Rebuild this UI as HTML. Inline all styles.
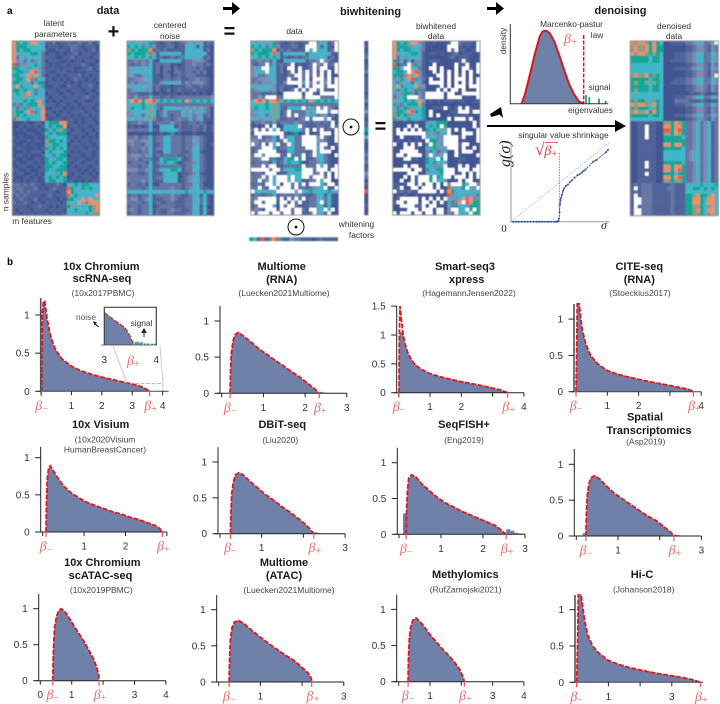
<!DOCTYPE html>
<html><head><meta charset="utf-8"><title>Biwhitening and denoising figure</title>
<style>
html,body{margin:0;padding:0;background:#fff}
svg{display:block;font-family:"Liberation Sans",sans-serif}
.h{font-weight:bold;font-size:11px;fill:#1a1a1a;text-anchor:middle}
.s{font-size:8.4px;fill:#333;text-anchor:middle}
.c{font-size:8.5px;fill:#444;text-anchor:middle}
.m{font-family:"Liberation Serif",serif;font-style:italic}
</style></head><body>
<svg id="fig" width="720" height="704" viewBox="0 0 720 704" xmlns="http://www.w3.org/2000/svg">
<defs><filter id="soft" x="-2%" y="-2%" width="104%" height="104%"><feGaussianBlur stdDeviation="0.4"/></filter></defs>
<text x="7" y="14" font-size="10" font-weight="bold">a</text>
<text x="7" y="265" font-size="10" font-weight="bold">b</text>
<text class="h" x="108" y="14">data</text>
<text class="h" x="370.5" y="15">biwhitening</text>
<text class="h" x="620.5" y="14">denoising</text>
<text class="s" x="54" y="26">latent</text>
<text class="s" x="55.5" y="37">parameters</text>
<text class="s" x="170" y="28">centered</text>
<text class="s" x="170" y="39">noise</text>
<text class="s" x="294.5" y="34">data</text>
<text class="s" x="436" y="29">biwhitened</text>
<text class="s" x="436" y="39">data</text>
<text class="s" x="674" y="29">denoised</text>
<text class="s" x="674" y="39">data</text>
<text class="s" transform="translate(8.5,192) rotate(-90)">n samples</text>
<text class="s" x="32" y="224">m features</text>
<text class="s" x="356.5" y="227">whitening</text>
<text class="s" x="361.5" y="238">factors</text>

<text x="113.5" y="38" font-size="20" font-weight="bold" text-anchor="middle" fill="#111">+</text>
<text x="229.5" y="38" font-size="20" font-weight="bold" text-anchor="middle" fill="#111">=</text>
<text x="380.5" y="133" font-size="20" font-weight="bold" text-anchor="middle" fill="#111">=</text>

<polygon points="223,7 232,7 232,2 240,8.5 232,15 232,10 223,10" fill="#000"/>
<polygon points="487,7 496,7 496,2 504,8.5 496,15 496,10 487,10" fill="#000"/>
<polygon points="490,114 501,107 503,118 499.5,114.5 491.5,117" fill="#000"/>
<polygon points="487,125 615,125 615,120 626,126 615,132 615,127 487,127" fill="#000"/>

<g><circle cx="351" cy="127" r="8" fill="none" stroke="#111"/><circle cx="351" cy="127" r="1.4" fill="#111"/></g>
<g><circle cx="296" cy="227" r="8" fill="none" stroke="#111"/><circle cx="296" cy="227" r="1.4" fill="#111"/></g>

<g id="heatmaps" filter="url(#soft)"></g>
<g id="mp">
<text class="s" x="571.5" y="27">Marcenko-pastur</text>
<text class="s" x="597" y="38">law</text>
<text class="s" transform="translate(506,41) rotate(-90)">density</text>
<text class="s" x="599.5" y="90">signal</text>
<text class="s" x="590.5" y="113">eigenvalues</text>
<text class="m" x="564" y="43" font-size="14" fill="#f26a6a">β<tspan font-size="11" dy="2" font-style="normal">+</tspan></text>
</g>
<g id="sh">
<text class="s" x="563.5" y="138">singular value shrinkage</text>
<text class="m" transform="translate(510,167) rotate(-90)" font-size="16" fill="#222">g(σ)</text>
<text class="m" x="535" y="155" font-size="14" fill="#e8353a"><tspan font-style="normal" font-size="17">√</tspan>β<tspan font-size="10" dy="2" font-style="normal">+</tspan></text>
<line x1="545" y1="142.5" x2="558" y2="142.5" stroke="#e8353a" stroke-width=".8"/>
<text x="504" y="232" font-size="11" font-family="Liberation Serif" text-anchor="middle" fill="#222">0</text>
<text class="m" x="604" y="229" font-size="12" text-anchor="middle" fill="#222">σ</text>
</g>

<text class="h" x="101.3" y="270">10x Chromium</text>
<text class="h" x="102" y="282">scRNA-seq</text>
<text class="c" x="103" y="296">(10x2017PBMC)</text>
<text class="h" x="281.7" y="270">Multiome</text>
<text class="h" x="281.7" y="283">(RNA)</text>
<text class="c" x="284" y="296">(Luecken2021Multiome)</text>
<text class="h" x="465" y="270">Smart-seq3</text>
<text class="h" x="466.7" y="283">xpress</text>
<text class="c" x="469" y="296">(HagemannJensen2022)</text>
<text class="h" x="639.3" y="270">CITE-seq</text>
<text class="h" x="639.3" y="283">(RNA)</text>
<text class="c" x="640" y="296">(Stoeckius2017)</text>
<text class="h" x="100.7" y="428">10x Visium</text>
<text class="c" x="105" y="442.5">(10x2020Visium</text>
<text class="c" x="105" y="452.5">HumanBreastCancer)</text>
<text class="h" x="282.3" y="428">DBiT-seq</text>
<text class="c" x="280.3" y="443">(Liu2020)</text>
<text class="h" x="464" y="428">SeqFISH+</text>
<text class="c" x="464" y="443">(Eng2019)</text>
<text class="h" x="645" y="420.5">Spatial</text>
<text class="h" x="649" y="434">Transcriptomics</text>
<text class="c" x="645.7" y="444.5">(Asp2019)</text>
<text class="h" x="102.3" y="566">10x Chromium</text>
<text class="h" x="100.5" y="579">scATAC-seq</text>
<text class="c" x="101.3" y="593">(10x2019PBMC)</text>
<text class="h" x="284" y="566">Multiome</text>
<text class="h" x="284" y="579">(ATAC)</text>
<text class="c" x="289" y="593">(Luecken2021Multiome)</text>
<text class="h" x="465.3" y="578">Methylomics</text>
<text class="c" x="465.7" y="592.5">(RufZamojski2021)</text>
<text class="h" x="642" y="578">Hi-C</text>
<text class="c" x="643.7" y="592.5">(Johanson2018)</text>

<g id="panels"></g>
<g id="inset">
<line x1="113" y1="346" x2="127" y2="383" stroke="#ccc"/>
<line x1="160" y1="346" x2="163" y2="383" stroke="#ccc"/>
<path d="M135 383.5H163V391" fill="none" stroke="#bbb" stroke-dasharray="4 1.5"/>
</g>
<g>
<text x="86" y="320" font-size="8.4" text-anchor="middle" fill="#555">noise</text>
<line x1="99" y1="327" x2="94" y2="323" stroke="#222" stroke-width="1"/>
<polygon points="93,321 97,322.5 94.5,325.5" fill="#222"/>
<text x="104.3" y="363" font-size="10" text-anchor="middle" fill="#333">3</text>
<text x="156.3" y="363" font-size="10" text-anchor="middle" fill="#333">4</text>
<text class="m" x="127" y="365" font-size="14" fill="#f26a6a">β<tspan font-size="10" dy="2" font-style="normal">+</tspan></text>
</g>
<script>
// ---------- heatmap values (colour level per cell) ----------
const levelColors=['#3f5491','#4f639a','#6575a4','#7c8ab3','#57a8c8','#3fb6c9','#19a596','#8d9d80','#ef8e6b','#ea5a3b'];
const latentMatrix=[
"865658854112011211211201","866654554011101122101110","865665554100111021110120","845556652011010112011101",
"825355542111001120111011","834252352011100101101110","923355652101011011121001","665534532011101110011201",
"566448952100111010101110","664585852011010111201011","566589654110101012110101","665452562011110101011110",
"586455856001100211011210","665654644111011011101101","565785254011101101110110","455754454101110111012101",
"545656584010101110110011","632566684111011011011110","424635458001110101101101","566589658110101011110110",
"765654558011011101011011","675565548101110110101101",
"000100110566688110101110","001010101564668011011011","010100010646576101101101","000011001565666011110110",
"101000100654555110101010","010010110766565101011011","100101000756655011101101","011000101646565110110110",
"000101110564456101011101","011010001546566011101101","100100110645665110110011","010011010656556101101110",
"001100101665566010111011","110010011654666111010101","011001010554468101101010","100110101564656011011101",
"010101100566456110101011",
"221212110111210556566555","122111201012111964465655","212121111111011864455554","121211110120111956545458",
"112111201111010665585855","211210110111101545859888","111101121101011674555678","101110111011110556555678","110111011101011544546577"];
const noiseMatrix=[
"545545621012101235354121","656524631112201154515110","765666812121111155454120","656665951545454154545410",
"556565651211212645454120","223232410545454122333210","212232512122010122322120","344445512022021122212100",
"345454512021022122121200","342234511022012122211100","223345411122122112232210","232333511345454132333210",
"545454312111011122112110","234443412012012111211100","222111200101010101010101","224222522122122222222223",
"589868895656565685656565","555565752222222222222222","465565752155554353535320","345545751252222535354320",
"335424751242122535234120","553444731122123224234110","122322412222322112212100","010101500545502111221201",
"222222511555552111211201","000000100101601000100000","223122512255222122332100","332233512255222122432100",
"232213411254222122352101","122232512255222122452100","122122511155222112451000","233323412122221122452100",
"223122611566665112452100","122221512465560122352100","222122511222222122452100","333223512555665122452100",
"122112411145540112351000","222222512245550123452100","222232411155450123452100","122121500222222122452000",
"222212522222322123452110","555454555555455565555645","122122512222322112451510","233123511122321122452510",
"222212512112211122452510","122122501222211122451500","232122512112322112451510","122122512112211122451500"];
const denoisedMatrix=[
"878876865001111223552253","787786866000000112332132","787786866000000112332132","878876765000111223552253",
"666665665000111223552253","666665665001111223552253","555555555000000112332132","555555555000111123442143",
"555555555000000112332132","787786765000000112332132","666665665000111223552253","676675765001111223552253",
"666665665000000112332132","676665665000000112332132","555555555000000011121011","555555555000111223552253",
"676675765000222211121011","878875865000111223552253","676665765000000112332132","787786865000000112332132",
"666665665000111223552253","555555555000000112332132",
"001111100776876223523512","001121100886886223523512","001121100996896223523512","001121100776876223523512",
"001111100666665223523512","001111100666666223523512","001111100886886223523512","001111100666665223523512",
"001111100555555234523512","001111100555555234523512","001111100555555234523512","001111100666665223523512",
"001111100886886223523512","001111100886896223523512","001111100666566223523512","001111100886896223523512",
"001111100776776223523512",
"121222111112111445565556","101222111122111556656465","121222111112111555555555","101222111112111667866785",
"100222111112111668865885","100222111112111668865885","101222111112111667765785","100222111112111667865885","100222111112111667765785"];
const zeroMask=[
"................##.....#","...............###.....#","...............#.#.....#","........................",
"........................","...................#....","....#......#.....#..#..#","...##.....##.#...#.##..#",
"....#......#.#.#.#.#.#.#","............##.#.#.#.#..","..........#..#.#.###.#.#","..........####.#.#.#.#.#",
".............#.#.###.###","............#.#.##.#...#",".........#####.##..#####","....###..#####.####....#",
"........................","........................","..............#...#.#...","..........#.......###.##",
"..........#.#...........","...............#.###.#..","......................#.","....#.#......#........#.",
".#.#.#.#.......#.#.#...#",".########......#...###.#","..#.....#.....####.#...#",".........#....####.....#",
"#..#.#.#..#...####.##...","...###.........###.#..#.","..#####..........#.###..",".##.####..#...#..#.....#",
"...##.......#.#.........","........................","...#.##.......#...#.#..#","#####.##......###.###.##",
"....###.......###..#.#.#","...#.#.###.#..##.###.#.#","..#..#.###.#......#.##..","....##.#.##.#.#.###..##.",
"..#..##.###.#.......#..#","#......#####.#..........","........................","..#####.#.#.#.#.........",
".##.###.##.#.#.....#...","..####..#.##............","....###.###.##..##..#.#.","#.###.##.##.##...#...#.."];
const denoisedHoles=[[0,23],[9,23],[23,4],[24,4],[25,4],[26,4],[33,4],[34,4],[36,4],[40,1],[42,1],[43,1],[43,2],[44,1],[44,2],[45,1],[46,1],[46,2],[47,1],[47,2]];
const sampleFactors="010120012011110120131011605100121201320109000100";
const featureFactors="651912896115221110121111";
const dimLevels=[0,0,1,2,2,3,4,6,6,9];

const NS='http://www.w3.org/2000/svg';
function mk(tag,attrs,parent){const e=document.createElementNS(NS,tag);for(const k in attrs)e.setAttribute(k,attrs[k]);parent.appendChild(e);return e;}

function drawMatrix(name,x,y,w,h,valueAt){
  const g=mk('g',{},document.getElementById('heatmaps'));
  
  
  const cw=w/24,ch=h/48;
  for(let r=0;r<48;r++)for(let c=0;c<24;c++){
    const v=valueAt(r,c);
    const cell=mk('rect',{x:x+c*cw,y:y+r*ch,width:cw+.25,height:ch+.25,fill:v<0?'#fff':levelColors[v]},g);
    
    
  }
  const b=mk('rect',{x:x,y:y,width:w,height:h,fill:'none',stroke:'#8b8b8b','stroke-width':1},g);
  
  
}
const lvl=(m,r,c)=>parseInt((m[r]||'')[c]||'0',10);
const masked=(r,c)=>((zeroMask[r]||'')[c]==='#');
drawMatrix('latent-parameters-heatmap',12.3,41,87.2,174.5,(r,c)=>lvl(latentMatrix,r,c));
drawMatrix('centered-noise-heatmap',127,41,87,174.5,(r,c)=>lvl(noiseMatrix,r,c));
drawMatrix('data-heatmap',250.7,41,87.6,174,(r,c)=>masked(r,c)?-1:lvl(noiseMatrix,r,c));
drawMatrix('biwhitened-heatmap',392.7,41,87.3,174,(r,c)=>{
  if(masked(r,c))return -1;
  const l=lvl(latentMatrix,r,c);
  return lvl(noiseMatrix,r,c)<=2?dimLevels[l]:l;
});
drawMatrix('denoised-heatmap',630.3,41,88,174.7,(r,c)=>denoisedHoles.some(p=>p[0]===r&&p[1]===c)?-1:lvl(denoisedMatrix,r,c));
// whitening factor strips
(function(){
  const root=document.getElementById('heatmaps');
  const gv=mk('g',{},root);
  
  
  for(let i=0;i<48;i++){
    const r=mk('rect',{x:364.3,y:41+i*174/48,width:4,height:174/48+.25,fill:levelColors[+sampleFactors[i]]},gv);
    
    
  }
  const gh=mk('g',{},root);
  
  
  for(let i=0;i<24;i++){
    const r=mk('rect',{x:249.3+i*88.4/24,y:237.3,width:88.4/24+.25,height:3.8,fill:levelColors[+featureFactors[i]]},gh);
    
    
  }
})();

// ---------- Marcenko-Pastur sketch ----------
const mpX=[1.15,1.5,2,2.5,3,3.3,3.65,4,4.5,5,5.5,6,6.5,7,7.5];
const mpY=[0,.13,.4,.68,.92,.99,1,.97,.85,.66,.46,.27,.13,.03,0];
const signalX=[7.72,8.06,9.05,9.73];
const signalY=[.12,.09,.07,.04];
(function(){
  const g=document.getElementById('mp');
  const sx=v=>510.3+v*9.8, sy=v=>103.7-v*73;
  const pts=mpX.map((v,i)=>sx(v)+','+sy(mpY[i])).join(' ');
  const a=mk('polygon',{points:pts,fill:'#7081a9'},g);
  
  
  const l=mk('polyline',{points:pts,fill:'none',stroke:'#d81820','stroke-width':2,'stroke-linejoin':'round'},g);
  
  
  signalX.forEach((v,i)=>{
    const b=mk('rect',{x:sx(v)-.8,y:sy(signalY[i]),width:1.7,height:signalY[i]*73,fill:'#1f8f98'},g);
    
    
  });
  const d=mk('line',{x1:583.7,y1:35,x2:583.7,y2:103,stroke:'#d81820','stroke-width':1.4,'stroke-dasharray':'4 1.5'},g);
  
  
  const ax=mk('path',{d:'M510.3 24V103.7H608.3',fill:'none',stroke:'#333','stroke-width':1},g);
  
  
})();

// ---------- singular value shrinkage ----------
const shrinkX=[.02,.05,.08,.11,.14,.17,.2,.23,.26,.29,.32,.35,.38,.41,.44,.46,.47,.48,.49,.495,.5,.505,.51,.52,.53,.54,.56,.58,.6,.62,.65,.68,.7,.72,.74,.76,.84,.87,.97,.99];
const shrinkY=[0,0,0,0,0,0,0,0,0,0,0,0,0,0,0,0,0,.01,.04,.12,.22,.27,.3,.34,.39,.42,.45,.47,.5,.52,.56,.59,.6,.62,.64,.66,.76,.78,.88,.91];
(function(){
  const g=document.getElementById('sh');
  const sx=v=>511+v*98, sy=v=>221.7-v*79;
  const ax=mk('path',{d:'M511 141.7V221.7M510 221.7H609.3',fill:'none',stroke:'#999','stroke-width':1},g);
  
  
  const id=mk('line',{x1:sx(0),y1:sy(0),x2:sx(1),y2:sy(1),stroke:'#7f9fce','stroke-width':.8,'stroke-dasharray':'1 1.4'},g);
  
  
  const th=mk('line',{x1:559.3,y1:153,x2:559.3,y2:221.7,stroke:'#e8353a','stroke-width':.8,'stroke-dasharray':'1.5 1.2'},g);
  
  
  const ln=mk('polyline',{points:shrinkX.map((v,i)=>sx(v)+','+sy(shrinkY[i])).join(' '),fill:'none',stroke:'#34509c','stroke-width':.9,'stroke-dasharray':'2.5 .8'},g);
  
  
  shrinkX.forEach((v,i)=>{
    const p=mk('circle',{cx:sx(v),cy:sy(shrinkY[i]),r:1,fill:'#34509c'},g);
    
    
  });
})();

// ---------- histogram panels: curve samples ----------
const p1X=[.02,.03,.05,.08,.12,.2,.3,.4,.5,.7,1,1.3,1.6,2,2.5,3,3.3,3.5,3.57];
const p1Y=[0,.6,1.05,1.18,1.18,.95,.75,.62,.53,.42,.33,.27,.23,.185,.14,.095,.06,.02,0];
const p2X=[.2,.21,.23,.27,.32,.4,.5,.7,.9,1.1,1.3,1.5,1.7,1.9,2.1,2.25,2.34];
const p2Y=[0,.25,.55,.72,.81,.84,.8,.71,.61,.53,.45,.37,.29,.21,.12,.05,0];
const p3X=[.01,.02,.04,.08,.13,.2,.3,.4,.5,.7,1,1.3,1.6,2,2.5,3,3.3,3.48];
const p3Y=[0,.9,1.5,1.3,1.05,.85,.68,.58,.5,.41,.33,.28,.24,.19,.14,.08,.04,0];
const p4X=[0,.02,.04,.07,.1,.15,.2,.3,.4,.5,.7,1,1.3,1.6,2,2.5,3,3.4,3.6,3.75];
const p4Y=[0,.5,1.2,1.3,1.22,1.02,.85,.68,.56,.48,.38,.29,.245,.21,.17,.125,.085,.05,.03,0];
const p5X=[.08,.09,.11,.14,.18,.25,.35,.5,.7,.9,1.1,1.3,1.5,1.7,1.9,2.1,2.3,2.5,2.7,2.82,2.89];
const p5Y=[0,.35,.7,.85,.89,.83,.74,.62,.52,.45,.39,.35,.31,.27,.24,.2,.17,.13,.09,.05,0];
const p6X=[.25,.26,.28,.32,.37,.45,.55,.7,.9,1.1,1.3,1.5,1.7,1.9,2.05,2.18,2.25];
const p6Y=[0,.25,.55,.72,.82,.85,.82,.74,.64,.54,.46,.37,.29,.2,.13,.05,0];
const p7X=[.17,.18,.2,.23,.3,.4,.55,.7,.9,1.1,1.3,1.5,1.7,1.9,2.1,2.3,2.45,2.55];
const p7Y=[0,.3,.6,.78,.83,.8,.7,.62,.52,.44,.38,.32,.27,.22,.17,.12,.05,0];
const p8X=[.23,.24,.26,.3,.35,.43,.55,.7,.9,1.1,1.3,1.5,1.7,1.9,2.1,2.25,2.34];
const p8Y=[0,.25,.55,.72,.81,.84,.8,.71,.6,.52,.44,.36,.28,.22,.13,.06,0];
const p9X=[.4,.41,.43,.46,.52,.6,.67,.8,.95,1.1,1.25,1.4,1.55,1.7,1.8,1.86,1.87];
const p9Y=[0,.3,.55,.75,.9,.98,1,.95,.85,.74,.64,.54,.42,.3,.18,.08,0];
const p10X=[.25,.26,.28,.32,.38,.48,.6,.8,1,1.2,1.4,1.6,1.8,2,2.15,2.22,2.23];
const p10Y=[0,.3,.58,.75,.83,.85,.81,.71,.62,.53,.45,.37,.3,.2,.12,.05,0];
const p11X=[.3,.31,.34,.38,.45,.55,.7,.85,1,1.2,1.4,1.6,1.8,1.95,2.05,2.1];
const p11Y=[0,.3,.6,.75,.85,.88,.82,.74,.65,.55,.45,.36,.26,.17,.07,0];
const p12X=[0,.03,.05,.08,.12,.17,.25,.35,.5,.7,1,1.3,1.6,2,2.5,3,3.4,3.7,3.9];
const p12Y=[0,.6,1.2,1.4,1.3,1.1,.85,.65,.5,.4,.3,.25,.21,.17,.125,.09,.06,.03,0];
// extra histogram bins lying outside the fitted curve
const p2TailX=[2.38,2.45,2.52];
const p2TailY=[.02,.012,.005];
const p6TailX=[2.3,2.38,2.5];
const p6TailY=[.02,.01,.005];
const p7TailX=[.145,2.6,2.7,2.8,2.9];
const p7TailY=[.29,.07,.05,.02,.01];
const p8TailX=[.19,2.38,2.45,2.6];
const p8TailY=[.04,.02,.012,.005];
// tick values
const ticks012=[0,.5,1];
const ticks3=[0,.5,1,1.5];
const p1XT=[0,1,2,3,4];const p1XL=[1,2,3,4];
const p2XT=[0,1,2,3];const p2XL=[1,2,3];
const p3XT=[0,1,2,3,4];const p3XL=[1,2,4];
const p4XT=[0,1,2,3,4];const p4XL=[1,2,4];
const p5XT=[0,1,2,3];const p5XL=[1,2];
const p6XT=[0,1,2,3];const p6XL=[1,3];
const p7XT=[0,1,2,3];const p7XL=[1,2,3];
const p8XT=[0,1,2,3];const p8XL=[1,3];
const p9XT=[0,1,2,3,4];const p9XL=[0,1,3,4];
const p10XT=[0,1,2,3];const p10XL=[1,3];
const p11XT=[0,1,2,3,4];const p11XL=[1,3,4];
const p12XT=[0,1,2,3];const p12XL=[1,3];

const panels=[
 {n:'10x-chromium',ax:40.7,x0:41,ux:30.4,y0:391.3,uy:76.3,top:298,xs:p1X,ys:p1Y,xt:p1XT,xl:p1XL,yt:ticks012,thick:1},
 {n:'multiome-rna',ax:220,x0:221.7,ux:41.7,y0:393.3,uy:72.3,top:306,xs:p2X,ys:p2Y,xt:p2XT,xl:p2XL,yt:ticks012,tx:p2TailX,ty:p2TailY},
 {n:'smart-seq3',ax:396.7,x0:398.7,ux:31.3,y0:392.7,uy:57.7,top:306,xs:p3X,ys:p3Y,xt:p3XT,xl:p3XL,yt:ticks3,cap:1.05},
 {n:'cite-seq',ax:574,x0:576,ux:31.3,y0:391.7,uy:72.6,top:304,xs:p4X,ys:p4Y,xt:p4XT,xl:p4XL,yt:ticks012,thick:1},
 {n:'10x-visium',ax:40.7,x0:42.7,ux:41.4,y0:532,uy:74.3,top:446.7,xs:p5X,ys:p5Y,xt:p5XT,xl:p5XL,yt:ticks012},
 {n:'dbit-seq',ax:218,x0:220,ux:41.7,y0:533.7,uy:71.7,top:447.3,xs:p6X,ys:p6Y,xt:p6XT,xl:p6XL,yt:ticks012,tx:p6TailX,ty:p6TailY},
 {n:'seqfish',ax:397.3,x0:399,ux:42,y0:534.3,uy:71.6,top:447.7,xs:p7X,ys:p7Y,xt:p7XT,xl:p7XL,yt:ticks012,tx:p7TailX,ty:p7TailY,tw:.1},
 {n:'spatial-transcriptomics',ax:574.3,x0:576.3,ux:41.7,y0:536,uy:71.7,top:449,xs:p8X,ys:p8Y,xt:p8XT,xl:p8XL,yt:ticks012,tx:p8TailX,ty:p8TailY},
 {n:'chromium-scatac',ax:38.7,x0:40.3,ux:31.4,y0:680.7,uy:72,top:594,xs:p9X,ys:p9Y,xt:p9XT,xl:p9XL,yt:ticks012},
 {n:'multiome-atac',ax:216.7,x0:218.7,ux:41.7,y0:682,uy:72.3,top:595,xs:p10X,ys:p10Y,xt:p10XT,xl:p10XL,yt:ticks012},
 {n:'methylomics',ax:396.7,x0:398.7,ux:31.3,y0:681.7,uy:72.3,top:594.7,xs:p11X,ys:p11Y,xt:p11XT,xl:p11XL,yt:ticks012},
 {n:'hi-c',ax:575,x0:576.7,ux:31.7,y0:682.3,uy:72.6,top:595,xs:p12X,ys:p12Y,xt:p12XT,xl:p12XL,yt:ticks012,thick:1,xEnd:703}
];
panels.forEach((p,pi)=>{
  const root=document.getElementById('panels');
  const g=mk('g',{},root);
  
  
  const sx=v=>p.x0+v*p.ux, sy=v=>p.y0-v*p.uy;
  const bMinus=p.xs[0], bPlus=p.xs[p.xs.length-1];
  const xEnd=p.xEnd||sx(p.xt[p.xt.length-1])+(pi===0?6:0);
  const clip=mk('clipPath',{id:'c'+pi},g);
  mk('rect',{x:p.ax-6,y:p.top-1,width:xEnd-p.ax+12,height:p.y0-p.top+8},clip);
  const inner=mk('g',{'clip-path':'url(#c'+pi+')'},g);
  const capV=v=>p.cap?Math.min(v,p.cap):v;
  const area=mk('polygon',{points:p.xs.map((v,i)=>sx(v)+','+sy(capV(p.ys[i]))).join(' '),fill:'#7081a9'},inner);
  
  
  if(p.tx)p.tx.forEach((v,i)=>{
    const w=(p.tw||.07)*p.ux;
    const b=mk('rect',{x:sx(v)-w/2,y:sy(p.ty[i]),width:w,height:p.ty[i]*p.uy,fill:'#7081a9'},inner);
    
    
  });
  const c=mk('polyline',{points:p.xs.map((v,i)=>sx(v)+','+sy(p.ys[i])).join(' '),fill:'none',stroke:'#e4141e','stroke-width':1.8,'stroke-dasharray':'5 1.5'},inner);
  
  
  const axes=mk('path',{d:'M'+p.ax+' '+p.top+'V'+p.y0+'M'+(p.ax-3)+' '+p.y0+'H'+xEnd,fill:'none',stroke:p.thick?'#444':'#222','stroke-width':1},g);
  
  
  if(p.thick){
    const t=mk('line',{x1:p.ax,y1:p.top,x2:p.ax,y2:p.y0,stroke:'#555','stroke-width':1.6},g);
    
    
  }
  p.yt.forEach(v=>{
    const t=mk('line',{x1:p.ax-5.5,x2:p.ax,y1:sy(v),y2:sy(v),stroke:'#222','stroke-width':1},g);
    
    
    const l=mk('text',{x:p.ax-11,y:sy(v)+3.5,'font-size':10,'text-anchor':'end',fill:'#333'},g);
    l.textContent=String(v);
    
    
  });
  p.xt.forEach(v=>{
    const t=mk('line',{x1:sx(v),x2:sx(v),y1:p.y0,y2:p.y0+4,stroke:'#222','stroke-width':1},g);
    
    
  });
  p.xl.forEach(v=>{
    const l=mk('text',{x:sx(v),y:p.y0+17.5,'font-size':10,'text-anchor':'middle',fill:'#333'},g);
    l.textContent=String(v);
    
    
  });
  [[bMinus,'−','beta-minus'],[bPlus,'+','beta-plus']].forEach(b=>{
    const t=mk('line',{x1:sx(b[0]),x2:sx(b[0]),y1:p.y0-1,y2:p.y0+5,stroke:'#f0555a','stroke-width':1.2},g);
    
    
    const l=mk('text',{x:sx(b[0])+(b[1]==='+'?1:0),y:p.y0+18.5,'font-size':14,'text-anchor':'middle',fill:'#f26a6a','font-family':'Liberation Serif','font-style':'italic'},g);
    l.textContent='β';
    const s=mk('tspan',{'font-size':10,dy:2,'font-style':'normal'},l);
    s.textContent=b[1];
    
    
  });
});

// ---------- inset of first panel ----------
const insetX=[3,3.08,3.16,3.24,3.32,3.4,3.48,3.54,3.57];
const insetY=[.95,.86,.76,.68,.59,.5,.3,.1,0];
const insetSignalX=[3.6,3.64,3.68,3.72,3.78,3.84,3.92,3.98];
const insetSignalY=[.09,.1,.07,.09,.05,.05,.04,.04];
(function(){
  const g=document.getElementById('inset');
  const sx=v=>104.3+(v-3)*52, sy=v=>345-v*34;
  const bg=mk('rect',{x:104.3,y:307.3,width:52,height:37.7,fill:'#fff'},g);
  
  
  const pts=insetX.map((v,i)=>sx(v)+','+sy(insetY[i]));
  const a=mk('polygon',{points:pts.join(' ')+' '+sx(3)+','+sy(0),fill:'#7081a9'},g);
  
  
  insetSignalX.forEach((v,i)=>{
    const b=mk('rect',{x:sx(v)-1,y:sy(insetSignalY[i]),width:2,height:insetSignalY[i]*34,fill:'#3fa5a0'},g);
    
    
  });
  const l=mk('polyline',{points:pts.join(' '),fill:'none',stroke:'#e0202a','stroke-width':1.3,'stroke-dasharray':'5 1.4'},g);
  
  
  const f=mk('path',{d:'M104.3 345V307.3H156.3V345',fill:'none',stroke:'#444','stroke-width':1.2},g);
  
  
  const h=mk('line',{x1:101,y1:345,x2:157,y2:345,stroke:'#444','stroke-width':.8},g);
  
  
  const st=mk('text',{x:141.5,y:326,'font-size':8.4,'text-anchor':'middle',fill:'#333'},g);
  st.textContent='signal';
  
  
  const ar=mk('path',{d:'M144 337V331M142 332.5L144 329L146 332.5Z',stroke:'#222',fill:'#222','stroke-width':1},g);
  
  
})();
</script>
</svg>
</body></html>
